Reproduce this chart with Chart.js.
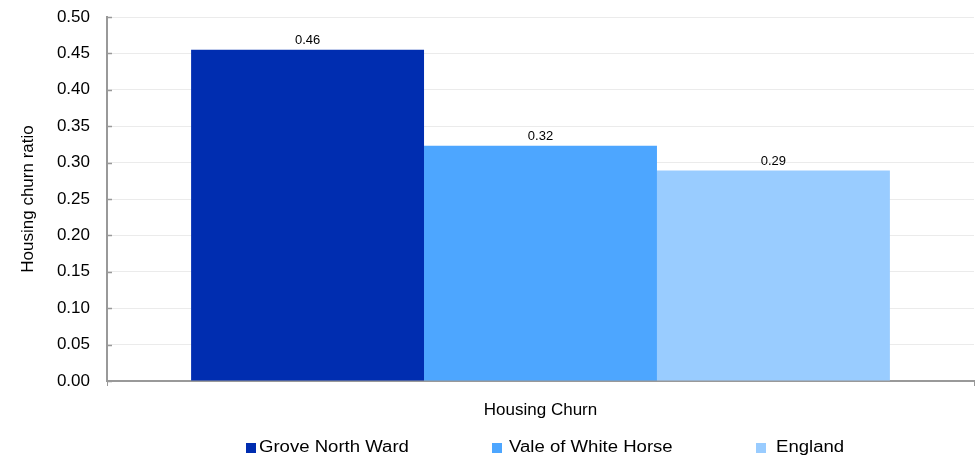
<!DOCTYPE html>
<html>
<head>
<meta charset="utf-8">
<script src="https://cdn.jsdelivr.net/npm/chart.js@4/dist/chart.umd.min.js"></script>
<style>
  html, body { margin: 0; padding: 0; background: #fff; }
  #wrap { position: relative; width: 975px; height: 458px; }
  #legend {
    position: absolute; left: 0; top: 437px; width: 975px; height: 20px;
    font: 16px "Liberation Sans", Arial, sans-serif; color: #000;
  }
  #legend span.box { position: absolute; top: 6px; width: 10px; height: 10px; }
  #legend span.txt {
    position: absolute; top: 0; line-height: 20px; white-space: nowrap;
    transform: scaleX(1.16); transform-origin: left center;
  }
</style>
</head>
<body>
<div id="wrap"><canvas id="chart"></canvas><div id="legend"></div></div>
<script>
const categories = ['Housing Churn'];
const seriesNames = ['Grove North Ward', 'Vale of White Horse', 'England'];
const seriesValues = [[0.455], [0.323], [0.289]];
const seriesColors = ['#002db0', '#4da6ff', '#99ccff'];
const yTicks = [0, 0.05, 0.1, 0.15, 0.2, 0.25, 0.3, 0.35, 0.4, 0.45, 0.5];

// legend placement (box left, text left)
const legendBoxX = [246, 492, 756];
const legendTextX = [259, 509, 776];

// draws the value over each bar
const barLabels = {
  id: 'barLabels',
  afterDatasetsDraw(chart) {
    const ctx = chart.ctx;
    ctx.save();
    ctx.font = '13px "Liberation Sans", Arial, sans-serif';
    ctx.fillStyle = '#000';
    ctx.textAlign = 'center';
    ctx.textBaseline = 'bottom';
    chart.data.datasets.forEach((ds, i) => {
      chart.getDatasetMeta(i).data.forEach((bar, j) => {
        ctx.fillText(ds.data[j].toFixed(2), bar.x, bar.y - 3);
      });
    });
    ctx.restore();
  }
};

// small tick marks on the inner side of the y axis
const innerTicks = {
  id: 'innerTicks',
  afterDraw(chart) {
    const ctx = chart.ctx, y = chart.scales.y;
    ctx.save();
    ctx.strokeStyle = '#999';
    ctx.lineWidth = 1.5;
    yTicks.forEach(v => {
      const py = Math.round(y.getPixelForValue(v)) + 0.5;
      ctx.beginPath();
      ctx.moveTo(y.right, py);
      ctx.lineTo(y.right + 5, py);
      ctx.stroke();
    });
    ctx.restore();
  }
};

Chart.defaults.font.family = '"Liberation Sans", Arial, sans-serif';
Chart.defaults.color = '#000';

new Chart(document.getElementById('chart'), {
  type: 'bar',
  data: {
    labels: categories,
    datasets: seriesNames.map((name, i) => ({
      label: name,
      data: seriesValues[i],
      backgroundColor: seriesColors[i],
      barPercentage: 1,
      categoryPercentage: 0.806
    }))
  },
  options: {
    responsive: true,
    maintainAspectRatio: false,
    animation: false,
    layout: { padding: { top: 17, right: 1, left: 14, bottom: 38 } },
    scales: {
      x: {
        grid: { drawOnChartArea: false, color: '#999', tickLength: 5 },
        border: { color: '#999', width: 2 },
        ticks: { font: { size: 17 }, padding: 14 },
        afterFit: axis => { axis.height = 39; }
      },
      y: {
        min: 0,
        max: 0.5,
        afterBuildTicks: axis => { axis.ticks = yTicks.map(v => ({ value: v })); },
        ticks: {
          font: { size: 17 },
          padding: 17,
          callback: v => v.toFixed(2)
        },
        grid: { color: '#ebebeb', tickLength: 0 },
        border: { color: '#999', width: 2 },
        title: { display: true, text: 'Housing churn ratio', font: { size: 17 }, padding: { top: 4, bottom: 4 } },
        afterFit: axis => {
          axis.width = 93;
          axis.paddingTop = 0;
          axis.paddingBottom = 0;
        }
      }
    },
    plugins: {
      legend: { display: false },
      tooltip: { enabled: false }
    }
  },
  plugins: [barLabels, innerTicks]
});

const legend = document.getElementById('legend');
seriesNames.forEach((name, i) => {
  const box = document.createElement('span');
  box.className = 'box';
  box.style.left = legendBoxX[i] + 'px';
  box.style.background = seriesColors[i];
  const txt = document.createElement('span');
  txt.className = 'txt';
  txt.style.left = legendTextX[i] + 'px';
  txt.textContent = name;
  legend.appendChild(box);
  legend.appendChild(txt);
});
</script>
</body>
</html>
